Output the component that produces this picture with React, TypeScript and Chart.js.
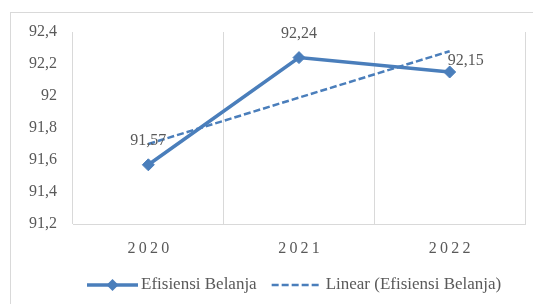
import React, { useEffect, useRef } from "react";
import { Chart, registerables } from "chart.js";

Chart.register(...registerables);

const categories = ["2020", "2021", "2022"];
const efisiensi = [91.57, 92.24, 92.15];
const trend = [91.7, 91.99, 92.28];
const dataLabels = ["91,57", "92,24", "92,15"];
const labelPlacement = ["above", "above", "right"];
const legendLabels = ["Efisiensi Belanja", "Linear (Efisiensi Belanja)"];

const BLUE = "#4a7ebb";
const TEXT = "#595959";
const GRID = "#d9d9d9";
const FONT = "'Liberation Serif', 'Times New Roman', serif";

const fmt = (v: number) => Number(v.toFixed(1)).toString().replace(".", ",");

function drawDiamond(ctx: CanvasRenderingContext2D, x: number, y: number, r: number) {
  ctx.beginPath();
  ctx.moveTo(x, y - r);
  ctx.lineTo(x + r, y);
  ctx.lineTo(x, y + r);
  ctx.lineTo(x - r, y);
  ctx.closePath();
  ctx.fill();
}

const decorPlugin = {
  id: "decor",
  beforeDraw(chart: any) {
    const ctx = chart.ctx;
    ctx.save();
    ctx.strokeStyle = GRID;
    ctx.lineWidth = 1;
    ctx.strokeRect(10.5, 12.5, chart.width + 50, chart.height + 50);
    ctx.restore();
  },
  afterDatasetsDraw(chart: any) {
    const ctx = chart.ctx;
    const meta = chart.getDatasetMeta(0);
    ctx.save();
    ctx.font = `16px ${FONT}`;
    ctx.fillStyle = TEXT;
    ctx.textBaseline = "middle";
    meta.data.forEach((pt: any, i: number) => {
      const place = labelPlacement[i];
      if (place === "above") {
        ctx.textAlign = "center";
        ctx.fillText(dataLabels[i], pt.x, pt.y - 24);
      } else {
        ctx.textAlign = "left";
        ctx.fillText(dataLabels[i], pt.x - 2, pt.y - 11);
      }
    });
    ctx.restore();
  },
  afterDraw(chart: any) {
    const ctx = chart.ctx;
    ctx.save();
    ctx.font = `17px ${FONT}`;
    ctx.fillStyle = TEXT;
    ctx.textBaseline = "middle";
    ctx.textAlign = "left";
    const y = chart.height - 19;
    let x = chart.chartArea.left + 14;
    // item 1
    ctx.strokeStyle = BLUE;
    ctx.lineWidth = 3.5;
    ctx.beginPath();
    ctx.moveTo(x, y);
    ctx.lineTo(x + 51, y);
    ctx.stroke();
    ctx.fillStyle = BLUE;
    drawDiamond(ctx, x + 25.5, y, 6);
    ctx.fillStyle = TEXT;
    ctx.fillText(legendLabels[0], x + 54, y);
    x += 54 + ctx.measureText(legendLabels[0]).width + 15;
    // item 2
    ctx.lineWidth = 2.5;
    ctx.setLineDash([7, 3]);
    ctx.beginPath();
    ctx.moveTo(x, y);
    ctx.lineTo(x + 50, y);
    ctx.stroke();
    ctx.setLineDash([]);
    ctx.fillText(legendLabels[1], x + 54, y);
    ctx.restore();
  },
};

export default function App() {
  const ref = useRef<HTMLCanvasElement>(null);
  useEffect(() => {
    if (!ref.current) return;
    const chart = new Chart(ref.current, {
      type: "line",
      data: {
        labels: categories.map((c) => c.split("").join("\u2009")),
        datasets: [
          {
            label: legendLabels[0],
            data: efisiensi,
            borderColor: BLUE,
            backgroundColor: BLUE,
            borderWidth: 3.5,
            pointStyle: "rectRot",
            pointRadius: 6,
            pointBackgroundColor: BLUE,
            pointBorderColor: BLUE,
            pointBorderWidth: 1,
            tension: 0,
            order: 1,
          },
          {
            label: legendLabels[1],
            data: trend,
            borderColor: BLUE,
            borderWidth: 2.5,
            borderDash: [7, 3],
            pointRadius: 0,
            tension: 0,
            order: 2,
          },
        ],
      },
      options: {
        responsive: false,
        animation: false,
        devicePixelRatio: 1,
        layout: { padding: { left: 0, right: 8, top: 32, bottom: 40 } },
        plugins: {
          legend: { display: false },
          tooltip: { enabled: false },
        },
        scales: {
          x: {
            offset: true,
            grid: { display: true, color: GRID, lineWidth: 1, drawTicks: false, offset: true },
            border: { display: true, color: GRID },
            ticks: { color: TEXT, font: { family: FONT, size: 16 }, padding: 15 },
            afterFit: (s: any) => {
              s.height = 40;
            },
          },
          y: {
            min: 91.2,
            max: 92.4,
            grid: { display: false, drawTicks: false },
            border: { display: false },
            ticks: {
              stepSize: 0.2,
              color: TEXT,
              font: { family: FONT, size: 16 },
              padding: 16,
              callback: (v: any) => fmt(Number(v)),
            },
            afterFit: (s: any) => {
              s.width = 73;
            },
          },
        },
      },
      plugins: [decorPlugin],
    });
    return () => chart.destroy();
  }, []);
  return (
    <div style={{ position: "fixed", left: 0, top: 0, width: 533, height: 304, background: "#fff" }}>
      <canvas ref={ref} width={533} height={304} />
    </div>
  );
}
